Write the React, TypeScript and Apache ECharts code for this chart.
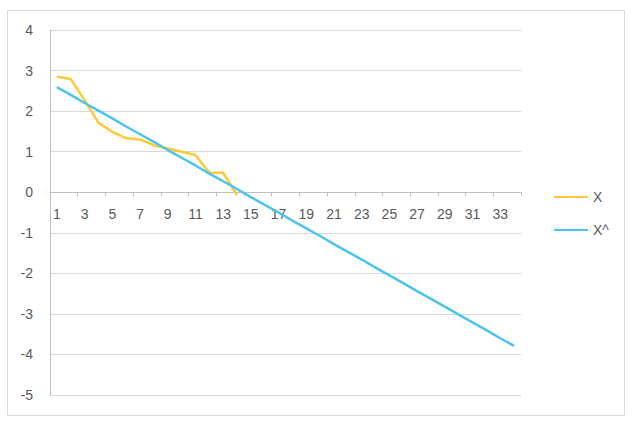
import React, { useEffect, useRef } from "react";
import * as echarts from "echarts";

const categories = Array.from({ length: 34 }, (_, i) => String(i + 1));
const seriesX = [2.85, 2.79, 2.27, 1.71, 1.49, 1.33, 1.3, 1.16, 1.08, 1.0, 0.92, 0.48, 0.48, -0.07];
const seriesXHat = [
  2.59, 2.4, 2.2, 2.01, 1.82, 1.62, 1.43, 1.24, 1.04, 0.85, 0.66, 0.46, 0.27, 0.08, -0.12, -0.31, -0.5,
  -0.7, -0.89, -1.08, -1.28, -1.47, -1.66, -1.86, -2.05, -2.24, -2.44, -2.63, -2.82, -3.02, -3.21, -3.4,
  -3.6, -3.79,
];
const seriesNames = ["X", "X^"];
const yMin = -5;
const yMax = 4;

export default function App() {
  const ref = useRef<HTMLDivElement>(null);
  useEffect(() => {
    const chart = echarts.init(ref.current!, null, { renderer: "svg" });
    const font = "'Liberation Sans', Arial, sans-serif";
    const gridTop = 30;
    const gridBottom = 35;
    const plotH = 430 - gridTop - gridBottom;
    const zeroOffset = -(plotH * (0 - yMin)) / (yMax - yMin);
    chart.setOption({
      animation: false,
      backgroundColor: "#ffffff",
      textStyle: { fontFamily: font },
      graphic: [
        {
          type: "rect",
          shape: { x: 7.5, y: 10.5, width: 617, height: 405 },
          style: { fill: "none", stroke: "#d9d9d9", lineWidth: 1 },
          silent: true,
        },
      ],
      grid: { left: 50, right: 119, top: gridTop, bottom: gridBottom },
      legend: {
        orient: "vertical",
        left: 548,
        top: 185,
        itemGap: 19,
        itemWidth: 34,
        itemHeight: 3,
        textStyle: { color: "#595959", fontSize: 14, fontFamily: font },
        data: seriesNames,
      },
      xAxis: {
        type: "category",
        data: categories,
        boundaryGap: true,
        position: "bottom",
        offset: zeroOffset,
        axisLine: { onZero: false, lineStyle: { color: "#bfbfbf", width: 1 } },
        axisTick: { show: true, length: 4, lineStyle: { color: "#bfbfbf" } },
        axisLabel: { interval: 1, color: "#595959", fontSize: 14, margin: 15, fontFamily: font },
        splitLine: { show: false },
      },
      yAxis: {
        type: "value",
        min: yMin,
        max: yMax,
        interval: 1,
        axisLine: { show: true, onZero: false, lineStyle: { color: "#bfbfbf" } },
        axisTick: { show: false },
        axisLabel: { color: "#595959", fontSize: 14, margin: 17, fontFamily: font },
        splitLine: { show: true, lineStyle: { color: "#d9d9d9", width: 1 } },
      },
      series: [
        {
          name: seriesNames[0],
          type: "line",
          data: seriesX,
          symbol: "none",
          lineStyle: { color: "#ffc93a", width: 2.5 },
          itemStyle: { color: "#ffc93a" },
        },
        {
          name: seriesNames[1],
          type: "line",
          data: seriesXHat,
          symbol: "none",
          lineStyle: { color: "#4cc4f0", width: 2.5 },
          itemStyle: { color: "#4cc4f0" },
        },
      ],
    });
    return () => chart.dispose();
  }, []);
  return (
    <div
      ref={ref}
      style={{ position: "fixed", left: 0, top: 0, width: 640, height: 430 }}
    />
  );
}
